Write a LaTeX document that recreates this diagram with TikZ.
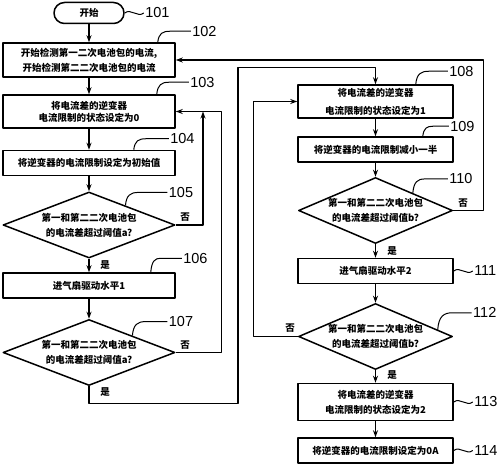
\documentclass[tikz,border=0pt]{standalone}
\usepackage{fontspec}
\setmainfont{Liberation Sans}
\newfontfamily\cjk{Noto Sans CJK SC}
\usetikzlibrary{shapes.geometric,arrows.meta,calc}

\begin{document}
\begin{tikzpicture}[x=1pt,y=-1pt,line join=round,>={Stealth[length=7pt,width=5pt]},
	box/.style={draw,line width=1.5pt,minimum height=25pt,align=center,inner sep=0pt,font=\cjk\bfseries\fontsize{9.5}{15}\selectfont},
	lbox/.style={box,minimum width=172pt},
	rbox/.style={box,minimum width=155pt},
	dec/.style={draw,diamond,line width=1.5pt,aspect=2.6,inner xsep=-8pt,inner ysep=0pt,align=center,minimum height=66pt,font=\cjk\bfseries\fontsize{9.5}{15}\selectfont},
	yn/.style={font=\cjk\bfseries\fontsize{9.5}{10}\selectfont},
	num/.style={font=\fontsize{14.5}{14}\selectfont,inner sep=0pt,anchor=west,xshift=1pt},
	flow/.style={->,line width=1.2pt},
	lead/.style={line width=1pt}]
	\useasboundingbox (0,0) rectangle (500,465);
	% left column
	\node[draw,line width=1.5pt,rounded corners=10.5pt,minimum width=70pt,minimum height=21pt,font=\cjk\bfseries\fontsize{9.5}{10}\selectfont] (start) at (89,13) {开始};
	\node[lbox,minimum height=34pt] (b102) at (89,60) {开始检测第一二次电池包的电流,\\开始检测第二二次电池包的电流};
	\node[lbox,minimum height=33pt] (b103) at (89,111.5) {将电流差的逆变器\\[-3pt]电流限制的状态设定为0};
	\node[lbox] (b104) at (89,163) {将逆变器的电流限制设定为初始值};
	\node[dec,minimum width=172pt] (d105) at (89,225) {第一和第二二次电池包\\的电流差超过阈值a?};
	\node[lbox] (b106) at (89,285.5) {进气扇驱动水平1};
	\node[dec,minimum width=172pt] (d107) at (89,352.5) {第一和第二二次电池包\\的电流差超过阈值a?};
	% right column
	\node[rbox,minimum height=33pt] (b108) at (375.5,101.5) {将电流差的逆变器\\[3pt]电流限制的状态设定为1};
	\node[rbox] (b109) at (375.5,149.5) {将逆变器的电流限制减小一半};
	\node[dec,minimum width=154pt] (d110) at (375.5,210.5) {第一和第二二次电池包\\的电流差超过阈值b?};
	\node[rbox] (b111) at (375.5,271) {进气扇驱动水平2};
	\node[dec,minimum width=154pt] (d112) at (375.5,336.5) {第一和第二二次电池包\\的电流差超过阈值b?};
	\node[rbox,minimum height=37pt] (b113) at (375.5,402) {将电流差的逆变器\\电流限制的状态设定为2};
	\node[rbox] (b114) at (375.5,450.5) {将逆变器的电流限制设定为0A};
	
	\foreach \a/\b in {start/b102,b102/b103,b103/b104,b104/d105,d105/b106,b106/d107,b108/b109,b109/d110,d110/b111,b111/d112,d112/b113,b113/b114}{
		\draw[flow] (\a) -- (\b);
	}
	\coordinate (j105) at (203,111.5);
	\draw[flow] (d105.east) -| (j105);
	\draw[flow] (d107.east) -- ++(46,0) |- (b103.east);
	\draw[flow] (d107.south) -- ++(0,17) -- ++(149,0) |- ([yshift=17pt]b108.north) -- (b108.north);
	\draw[flow] (d110.east) -- ++(30,0) |- (b102.east);
	\draw[flow] (d112.west) -- ++(-44,0) |- (b108.west);
	
	\node[yn] (n105) at (185,217) {否};
	\node[yn] (y105) at (105,265) {是};
	\node[yn] (n107) at (185,345) {否};
	\node[yn] (y107) at (105,392) {是};
	\node[yn] (n110) at (463,203) {否};
	\node[yn] (y110) at (392,251) {是};
	\node[yn] (n112) at (290,328) {否};
	\node[yn] (y112) at (392,375) {是};
	
	% reference numbers
	\coordinate (s102) at ($(b102.north east)+(-18,0)$);
	\coordinate (s103) at ($(b103.north east)+(-19,0)$);
	\coordinate (s104) at ($(b104.north east)+(-42,0)$);
	\coordinate (s105) at ($(d105.north)!0.42!(d105.east)$);
	\coordinate (s106) at ($(b106.north east)+(-25,0)$);
	\coordinate (s107) at ($(d107.north)!0.5!(d107.east)$);
	\coordinate (s108) at ($(b108.north east)+(-38,0)$);
	\coordinate (s109) at ($(b109.north east)+(-31,0)$);
	\coordinate (s110) at ($(d110.north)!0.48!(d110.east)$);
	\coordinate (s112) at ($(d112.north)!0.8!(d112.east)$);
	\foreach \n/\dx/\dy/\len in {102/12/-11/21,103/12/-12/20,104/12/-11/23,105/13/-13/29,106/10/-14/21,
		107/13/-14/22,108/13/-13/19,109/10/-10/16,110/12/-14/23,112/15/-17/19}{
		\draw[lead] (s\n) .. controls +(1,0.8*\dy) and +(-0.6*\dx,0) .. ++(\dx,\dy) -- ++(\len,0) node[num] (l\n) {\n};
	}
	\foreach \a/\n in {start/101,b111/111,b113/113,b114/114}{
		\draw[lead] (\a.east) .. controls +(6,-5) and +(-6,5) .. ++(19,0) node[num] (l\n) {\n};
	}
\end{tikzpicture}
\end{document}
